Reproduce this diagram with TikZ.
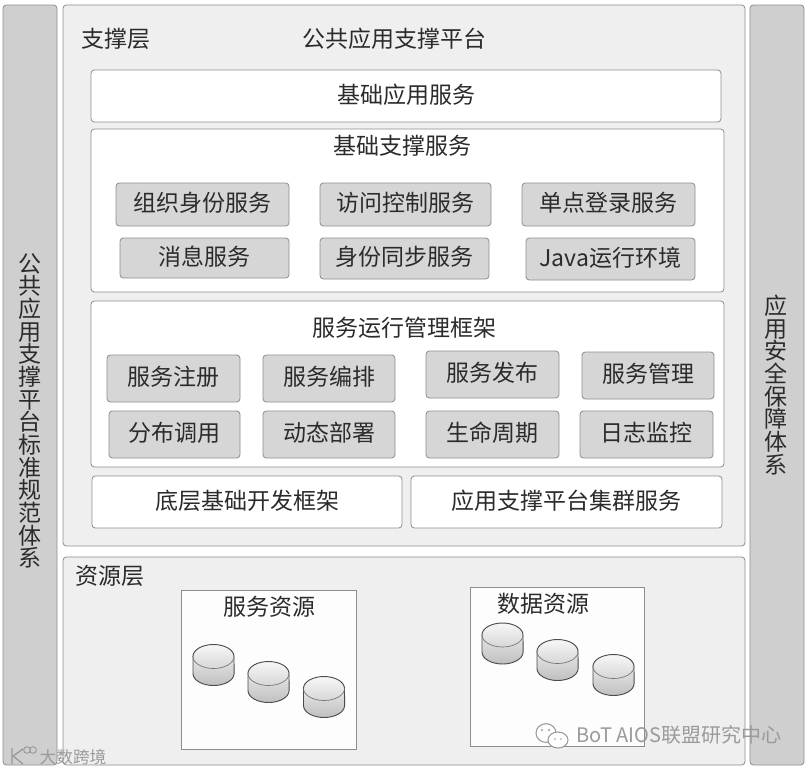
\documentclass[tikz,border=0pt]{standalone}
\usepackage{fontspec}
\setmainfont{Noto Sans CJK SC}
\definecolor{barfill}{HTML}{CFCFCF}
\definecolor{layerfill}{HTML}{EFEFEF}
\definecolor{itemfill}{HTML}{D6D6D6}
\definecolor{edgegray}{HTML}{8E8E8E}
\definecolor{inkgray}{HTML}{2B2B2B}
\definecolor{markgray}{HTML}{9A9A9A}
\tikzset{
  basebox/.style={draw=edgegray,rounded corners=2.5pt,inner sep=0pt,text=inkgray,font=\fontsize{17.25}{20}\selectfont,text height=14pt,text depth=3.2pt,line width=0.6pt},
  sidebar/.style={basebox,fill=barfill,minimum width=40.5pt,minimum height=570pt},
  sidetext/.style={text=inkgray,inner sep=0pt,align=center,font=\fontsize{17.25}{17}\selectfont},
  layerbox/.style={basebox,fill=layerfill,minimum width=511.5pt},
  whitebox/.style={basebox,fill=white},
  itembox/.style={basebox,fill=itemfill},
  resbox/.style={draw=edgegray,fill=white!60!layerfill!30!white,inner sep=0pt,line width=0.6pt},
  caption/.style={text=inkgray,inner sep=0pt,font=\fontsize{17.25}{20}\selectfont},
  markstyle/.style={text=markgray,inner sep=0pt},
  disk/.pic={
    \path[top color=gray!6,middle color=gray!16,bottom color=gray!50] (-20.5,-8.5) -- (-20.5,8.5) arc[start angle=180,end angle=360,x radius=15.4pt,y radius=9pt] -- (20.5,-8.5) arc[start angle=0,end angle=180,x radius=15.4pt,y radius=9pt] -- cycle;
    \draw[black!70,line width=0.7pt] (-20.5,-8.5) -- (-20.5,8.5) arc[start angle=180,end angle=360,x radius=15.4pt,y radius=9pt] -- (20.5,-8.5) arc[start angle=0,end angle=180,x radius=15.4pt,y radius=9pt] -- cycle;
    \draw[black!55,line width=0.5pt] (-20.5,-8.5) arc[start angle=180,end angle=360,x radius=15.4pt,y radius=9pt];
  }
}
\begin{document}
\begin{tikzpicture}[x=0.75pt,y=-0.75pt]
  \useasboundingbox (0,0) rectangle (806,771);
  % side bars
  \node[sidebar] (stdbar) at (30,385) {};
  \node[sidebar] (secbar) at (777,385) {};
  \node[sidetext] (stdlabel) at (30,411) {公\\共\\应\\用\\支\\撑\\平\\台\\标\\准\\规\\范\\体\\系};
  \node[sidetext] (seclabel) at (776,385) {应\\用\\安\\全\\保\\障\\体\\系};
  % layers
  \node[layerbox,minimum height=405.75pt] (supportlayer) at (404,275.5) {};
  \node[layerbox,minimum height=156pt] (resourcelayer) at (404,661) {};
  \node[caption] (supportlabel) at (116,39) {支撑层};
  \node[caption] (platformlabel) at (394,39) {公共应用支撑平台};
  \node[caption] (resourcelabel) at (110,576) {资源层};
  % support services
  \node[whitebox,minimum width=472.5pt,minimum height=39pt] (appsvc) at (406,96) {基础应用服务};
  \node[whitebox,minimum width=474.75pt,minimum height=122.25pt] (basesvc) at (407.5,210.5) {};
  \node[caption] (baselabel) at (402,146) {基础支撑服务};
  \node[itembox,minimum width=129.75pt,minimum height=32.25pt] (orgsvc) at (202.5,204.5) {组织身份服务};
  \node[itembox,minimum width=128.25pt,minimum height=32.25pt] (acsvc) at (405.5,204.5) {访问控制服务};
  \node[itembox,minimum width=129.75pt,minimum height=32.25pt] (ssosvc) at (608.5,204.5) {单点登录服务};
  \node[itembox,minimum width=126.75pt,minimum height=30pt] (msgsvc) at (204.5,258) {消息服务};
  \node[itembox,minimum width=126.75pt,minimum height=30.75pt] (idsvc) at (404.5,258.5) {身份同步服务};
  \node[itembox,minimum width=126.75pt,minimum height=31.5pt] (javaenv) at (610.5,259) {Java运行环境};
  % runtime framework
  \node[whitebox,minimum width=474.75pt,minimum height=124.5pt] (runframe) at (407.5,384) {};
  \node[caption] (runlabel) at (404,328) {服务运行管理框架};
  \node[itembox,minimum width=99.75pt,minimum height=35.25pt] (regsvc) at (173.5,378.5) {服务注册};
  \node[itembox,minimum width=99pt,minimum height=35.25pt] (orchsvc) at (329,378.5) {服务编排};
  \node[itembox,minimum width=99.75pt,minimum height=35.25pt] (pubsvc) at (492.5,374.5) {服务发布};
  \node[itembox,minimum width=99pt,minimum height=35.25pt] (mgrsvc) at (648,375.5) {服务管理};
  \node[itembox,minimum width=98.25pt,minimum height=35.25pt] (callsvc) at (174.5,434.5) {分布调用};
  \node[itembox,minimum width=99pt,minimum height=35.25pt] (deploysvc) at (329,434.5) {动态部署};
  \node[itembox,minimum width=99.75pt,minimum height=35.25pt] (lifesvc) at (492.5,434.5) {生命周期};
  \node[itembox,minimum width=99.75pt,minimum height=35.25pt] (logsvc) at (646.5,434.5) {日志监控};
  \node[whitebox,minimum width=232.5pt,minimum height=39pt] (devframe) at (247,502) {底层基础开发框架};
  \node[whitebox,minimum width=233.25pt,minimum height=39pt] (clustersvc) at (566.5,502) {应用支撑平台集群服务};
  % resources
  \node[resbox,minimum width=131.25pt,minimum height=119.25pt] (svcres) at (268.5,669.5) {};
  \node[resbox,minimum width=130.5pt,minimum height=119.25pt] (datares) at (557,666.5) {};
  \node[caption] (svclabel) at (269,607) {服务资源};
  \node[caption] (datalabel) at (543,604) {数据资源};
  \pic at (213.5,665) {disk};
  \pic at (268.5,682) {disk};
  \pic at (324,697) {disk};
  \pic at (502.5,643.5) {disk};
  \pic at (557.5,660) {disk};
  \pic at (613.5,675) {disk};
  % watermarks
  \node[markstyle,font=\fontsize{12.5}{14}\selectfont] (marktextl) at (73,757) {大数跨境};
  \node[markstyle,anchor=west,font=\fontsize{15}{18}\selectfont] (marktextr) at (576,735) {BoT AIOS联盟研究中心};
  \draw[markgray,line width=0.8pt,fill=white] (546,733) ellipse (7.5pt and 7pt);
  \draw[markgray,line width=0.8pt,fill=white] (558,740) ellipse (7.5pt and 6pt);
  \fill[markgray] (542,730) circle (0.8pt) (549,730) circle (0.8pt) (555,739) circle (0.7pt) (561,739) circle (0.7pt);
  \draw[markgray,line width=1pt] (12,748) -- (12,764) (23,749) -- (13,756) -- (23,764);
  \draw[markgray,line width=0.7pt] (27,750) circle (2.5pt) (33,750) circle (2.5pt);
\end{tikzpicture}
\end{document}
